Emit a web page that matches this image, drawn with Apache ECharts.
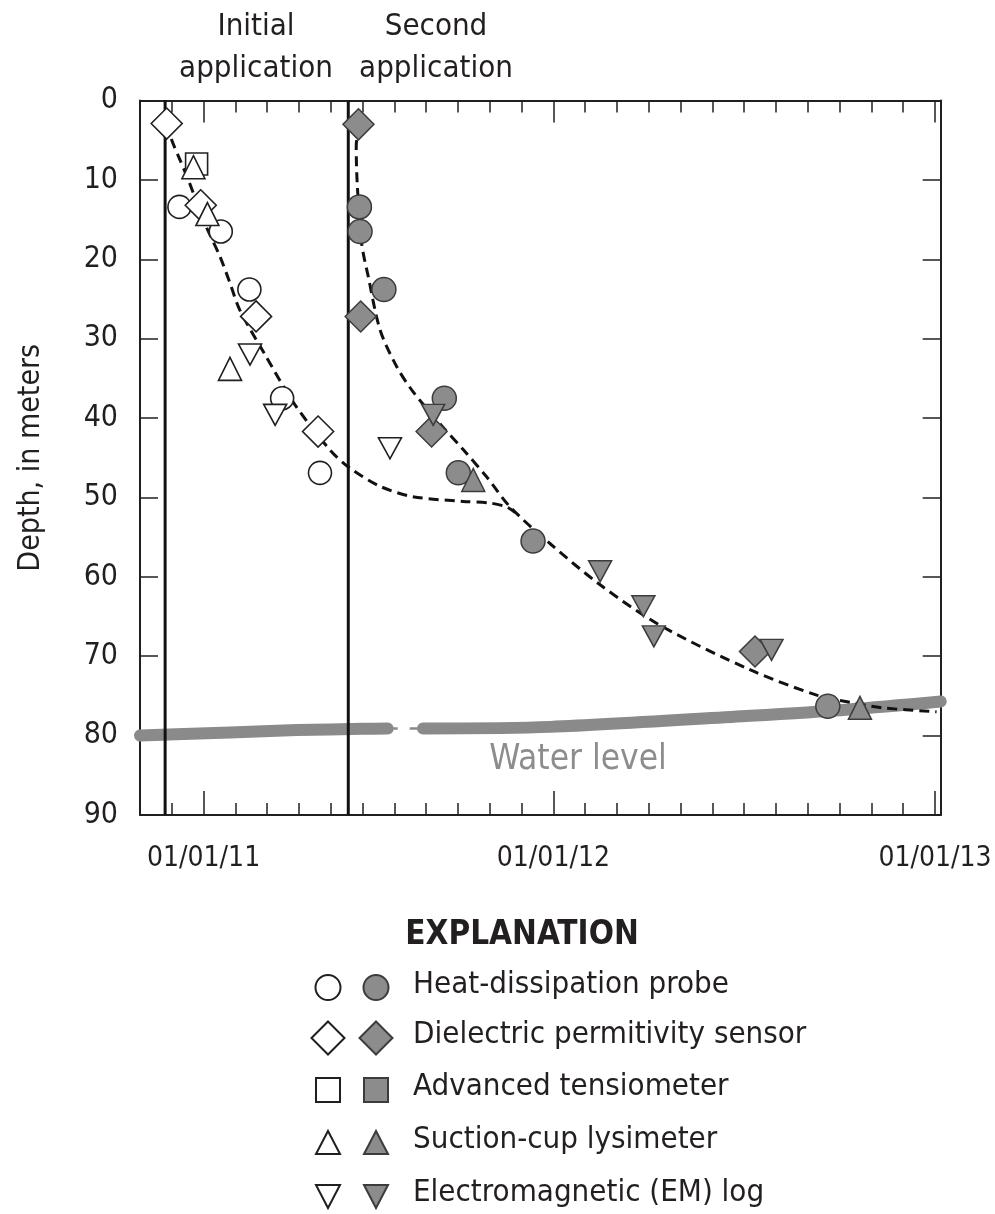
<!DOCTYPE html>
<html><head><meta charset="utf-8">
<script src="https://cdn.jsdelivr.net/npm/echarts@6/dist/echarts.min.js"></script>
<style>html,body{margin:0;padding:0;background:#fff}#c{width:995px;height:1214px}</style>
</head><body><div id="c"></div>
<script>
// x unit = one step of the chart's time ticks; 0 = 01/01/11, 11 = 01/01/12, 23 = 01/01/13
const xTickLabels = ['01/01/11', '01/01/12', '01/01/13'];
const xTickLabelPos = [0, 11, 23];
const depthTicks = [0, 10, 20, 30, 40, 50, 60, 70, 80, 90];
const applicationX = [-1.21, 4.55];
const applicationLabels = [['Initial', 'application'], ['Second', 'application']];

// Initial application (open symbols): [x, depth m]
const heatProbe1 = [[-0.76, 13.4], [0.54, 16.5], [1.44, 23.8], [2.47, 37.5], [3.66, 46.9]];
const dielectric1 = [[-1.16, 2.9], [-0.09, 13.2], [1.65, 27.2], [3.6, 41.7]];
const tensiometer1 = [[-0.22, 8.0]];
const lysimeter1 = [[-0.32, 8.4], [0.12, 14.3], [0.83, 33.8]];
const emLog1 = [[1.46, 32.0], [2.25, 39.6], [5.86, 43.8]];

// Second application (filled symbols)
const heatProbe2 = [[4.90, 13.4], [4.92, 16.5], [5.67, 23.8], [7.57, 37.5], [8.01, 46.9], [10.36, 55.5], [19.63, 76.3]];
const dielectric2 = [[4.87, 3.0], [4.94, 27.2], [7.17, 41.7], [17.34, 69.4]];
const tensiometer2 = [];
const lysimeter2 = [[8.48, 47.8], [20.64, 76.5]];
const emLog2 = [[7.22, 39.6], [12.47, 59.3], [13.83, 63.7], [14.16, 67.5], [17.86, 69.2]];

// Wetting-front curves
const curveInitial = [[-1.16, 2.9], [-1.0, 5.0], [-0.74, 7.5], [-0.48, 10.0], [0.04, 15.5], [0.52, 19.7], [0.83, 23.0], [1.14, 26.4], [1.93, 32.0], [2.87, 38.3], [3.97, 44.0], [4.6, 46.3], [5.55, 48.6], [6.58, 49.9], [8.16, 50.5], [9.0, 50.7], [9.53, 51.2], [9.8, 51.9]];
const curveSecond = [[4.87, 3.0], [4.8, 5.8], [4.83, 10.4], [4.97, 18.0], [5.18, 22.2], [5.55, 28.9], [6.07, 33.5], [6.59, 36.7], [7.43, 40.7], [8.17, 44.0], [8.90, 47.4], [9.64, 51.2], [10.89, 55.8], [12.47, 61.0], [14.35, 66.1], [17.18, 71.7], [19.28, 74.9], [20.33, 75.8], [21.36, 76.5], [23.05, 77.0]];

// Water level
const waterLevelA = [[-2, 80.0], [0.83, 79.6], [2.93, 79.3], [5.0, 79.15], [5.79, 79.1]];
const waterLevelGap = [[5.79, 79.1], [6.9, 79.1]];
const waterLevelB = [[6.9, 79.1], [10.9, 78.9], [17.19, 77.5], [20.3, 76.7], [23.18, 75.7]];

const legendLabels = ['Heat-dissipation probe', 'Dielectric permitivity sensor', 'Advanced tensiometer', 'Suction-cup lysimeter', 'Electromagnetic (EM) log'];
const legendSymbols = ['circle', 'diamond', 'rect', 'triangle', 'invtriangle'];

const FONT = "'Liberation Sans Narrow','Arial Narrow','DejaVu Sans Condensed',sans-serif";
const INK = '#231f20';
const GFILL = '#8c8c8c';
const GEDGE = '#3c3c3c';
const XMIN = -2, XMAX = 23.18;

function xAxis(pos, len, custom, labels) {
  const a = {
    type: 'value', position: pos, min: XMIN, max: XMAX, interval: 1,
    splitLine: { show: false },
    axisLine: { show: !custom, onZero: false, lineStyle: { color: INK, width: 2 } },
    axisTick: { show: true, inside: true, length: len, lineStyle: { color: INK, width: 1.5 } },
    axisLabel: { show: false }
  };
  if (custom) a.axisTick.customValues = xTickLabelPos;
  if (labels) {
    a.axisLabel = {
      show: true, customValues: xTickLabelPos, margin: 30,
      fontFamily: FONT, fontSize: 28, color: INK,
      formatter: v => xTickLabels[xTickLabelPos.indexOf(Math.round(v))] || ''
    };
  }
  return a;
}
function yAxis(pos, labels) {
  return {
    type: 'value', position: pos, inverse: true, min: 0, max: 90, interval: 10,
    splitLine: { show: false },
    axisLine: { show: true, onZero: false, lineStyle: { color: INK, width: 2 } },
    axisTick: { show: true, inside: true, length: 18, lineStyle: { color: INK, width: 1.5 } },
    axisLabel: labels ? { show: true, margin: 22, fontFamily: FONT, fontSize: 30, color: INK,
      formatter: v => depthTicks.includes(v) ? String(v) : '' } : { show: false },
    name: labels ? 'Depth, in meters' : '',
    nameLocation: 'middle', nameRotate: 90, nameGap: 94,
    nameTextStyle: { fontFamily: FONT, fontSize: 30, color: INK }
  };
}

const symMap = { circle: ['circle', 0], diamond: ['diamond', 0], rect: ['rect', 0], triangle: ['triangle', 0], invtriangle: ['triangle', 180] };
function scatter(name, data, sym, size, filled) {
  return {
    name, type: 'scatter', data, symbol: symMap[sym][0], symbolRotate: symMap[sym][1], symbolSize: size, z: 5,
    itemStyle: filled ? { color: GFILL, borderColor: GEDGE, borderWidth: 1.5, opacity: 1 }
                      : { color: '#fff', borderColor: INK, borderWidth: 1.6, opacity: 1 }
  };
}
function line(data, style, z, extra) {
  return Object.assign({ type: 'line', data, showSymbol: false, symbol: 'none', z, lineStyle: style, silent: true, clip: false }, extra || {});
}

const series = [
  line(waterLevelA, { color: '#8a8a8a', width: 12, cap: 'round', join: 'round' }, 1, { smooth: 0.3 }),
  line(waterLevelGap, { color: '#8a8a8a', width: 2.5, type: [10, 12] }, 1),
  line(waterLevelB, { color: '#8a8a8a', width: 12, cap: 'round', join: 'round' }, 1, { smooth: 0.3 }),
  line(curveInitial, { color: '#111', width: 3, type: [10, 6] }, 2, { smooth: 0.3 }),
  line(curveSecond, { color: '#111', width: 3, type: [10, 6] }, 2, { smooth: 0.3 })
];
applicationX.forEach(x => series.push(line([[x, 0], [x, 90]], { color: '#111', width: 3 }, 3)));
series.push(
  scatter('hp1', heatProbe1, 'circle', 23, false),
  scatter('dp1', dielectric1, 'diamond', 31, false),
  scatter('at1', tensiometer1, 'rect', 22, false),
  scatter('sl1', lysimeter1, 'triangle', 23, false),
  scatter('em1', emLog1, 'invtriangle', [23, 21], false),
  scatter('hp2', heatProbe2, 'circle', 24, true),
  scatter('dp2', dielectric2, 'diamond', 31, true),
  scatter('at2', tensiometer2, 'rect', 22, true),
  scatter('sl2', lysimeter2, 'triangle', 23, true),
  scatter('em2', emLog2, 'invtriangle', [23, 21], true)
);

// Legend (explanation) graphics
function legendShape(kind, cx, cy, filled) {
  const style = filled ? { fill: GFILL, stroke: GEDGE, lineWidth: 2 } : { fill: '#fff', stroke: INK, lineWidth: 2 };
  if (kind === 'circle') return { type: 'circle', shape: { cx, cy, r: 12.5 }, style };
  if (kind === 'rect') return { type: 'rect', shape: { x: cx - 12, y: cy - 12, width: 24, height: 24 }, style };
  let pts;
  if (kind === 'diamond') pts = [[cx, cy - 16.5], [cx + 16.5, cy], [cx, cy + 16.5], [cx - 16.5, cy]];
  if (kind === 'triangle') pts = [[cx, cy - 12], [cx + 12, cy + 11], [cx - 12, cy + 11]];
  if (kind === 'invtriangle') pts = [[cx - 12, cy - 11], [cx + 12, cy - 11], [cx, cy + 12]];
  return { type: 'polygon', shape: { points: pts }, style };
}
const legendRowY = [987.5, 1038, 1090, 1143, 1196];
const graphic = [];
graphic.push({ type: 'text', x: 522, y: 935, style: { text: 'EXPLANATION', fontFamily: FONT, fontSize: 33, fontWeight: 'bold', fill: INK, align: 'center', verticalAlign: 'middle' } });
legendLabels.forEach((lab, i) => {
  const cy = legendRowY[i];
  graphic.push(legendShape(legendSymbols[i], 328, cy, false));
  graphic.push(legendShape(legendSymbols[i], 376, cy, true));
  graphic.push({ type: 'text', x: 413, y: cy - 3, style: { text: lab, fontFamily: FONT, fontSize: 31, fill: INK, align: 'left', verticalAlign: 'middle' } });
});
const appLabelX = [256, 436];
applicationLabels.forEach((ls, i) => {
  graphic.push({ type: 'text', x: appLabelX[i], y: 27, style: { text: ls[0], fontFamily: FONT, fontSize: 31, fill: INK, align: 'center', verticalAlign: 'middle' } });
  graphic.push({ type: 'text', x: appLabelX[i], y: 69, style: { text: ls[1], fontFamily: FONT, fontSize: 31, fill: INK, align: 'center', verticalAlign: 'middle' } });
});
graphic.push({ type: 'text', x: 578, y: 760, style: { text: 'Water level', fontFamily: FONT, fontSize: 35, fill: '#8d8d8d', align: 'center', verticalAlign: 'middle' } });

const chart = echarts.init(document.getElementById('c'), null, { renderer: 'canvas' });
chart.setOption({
  animation: false,
  backgroundColor: '#fff',
  grid: { left: 140, right: 54.3, top: 100.5, bottom: 399, outerBoundsMode: 'none', containLabel: false },
  xAxis: [xAxis('bottom', 12, false, true), xAxis('bottom', 24, true, false), xAxis('top', 12, false, false), xAxis('top', 22, true, false)],
  yAxis: [yAxis('left', true), yAxis('right', false)],
  series,
  graphic
});
</script></body></html>
